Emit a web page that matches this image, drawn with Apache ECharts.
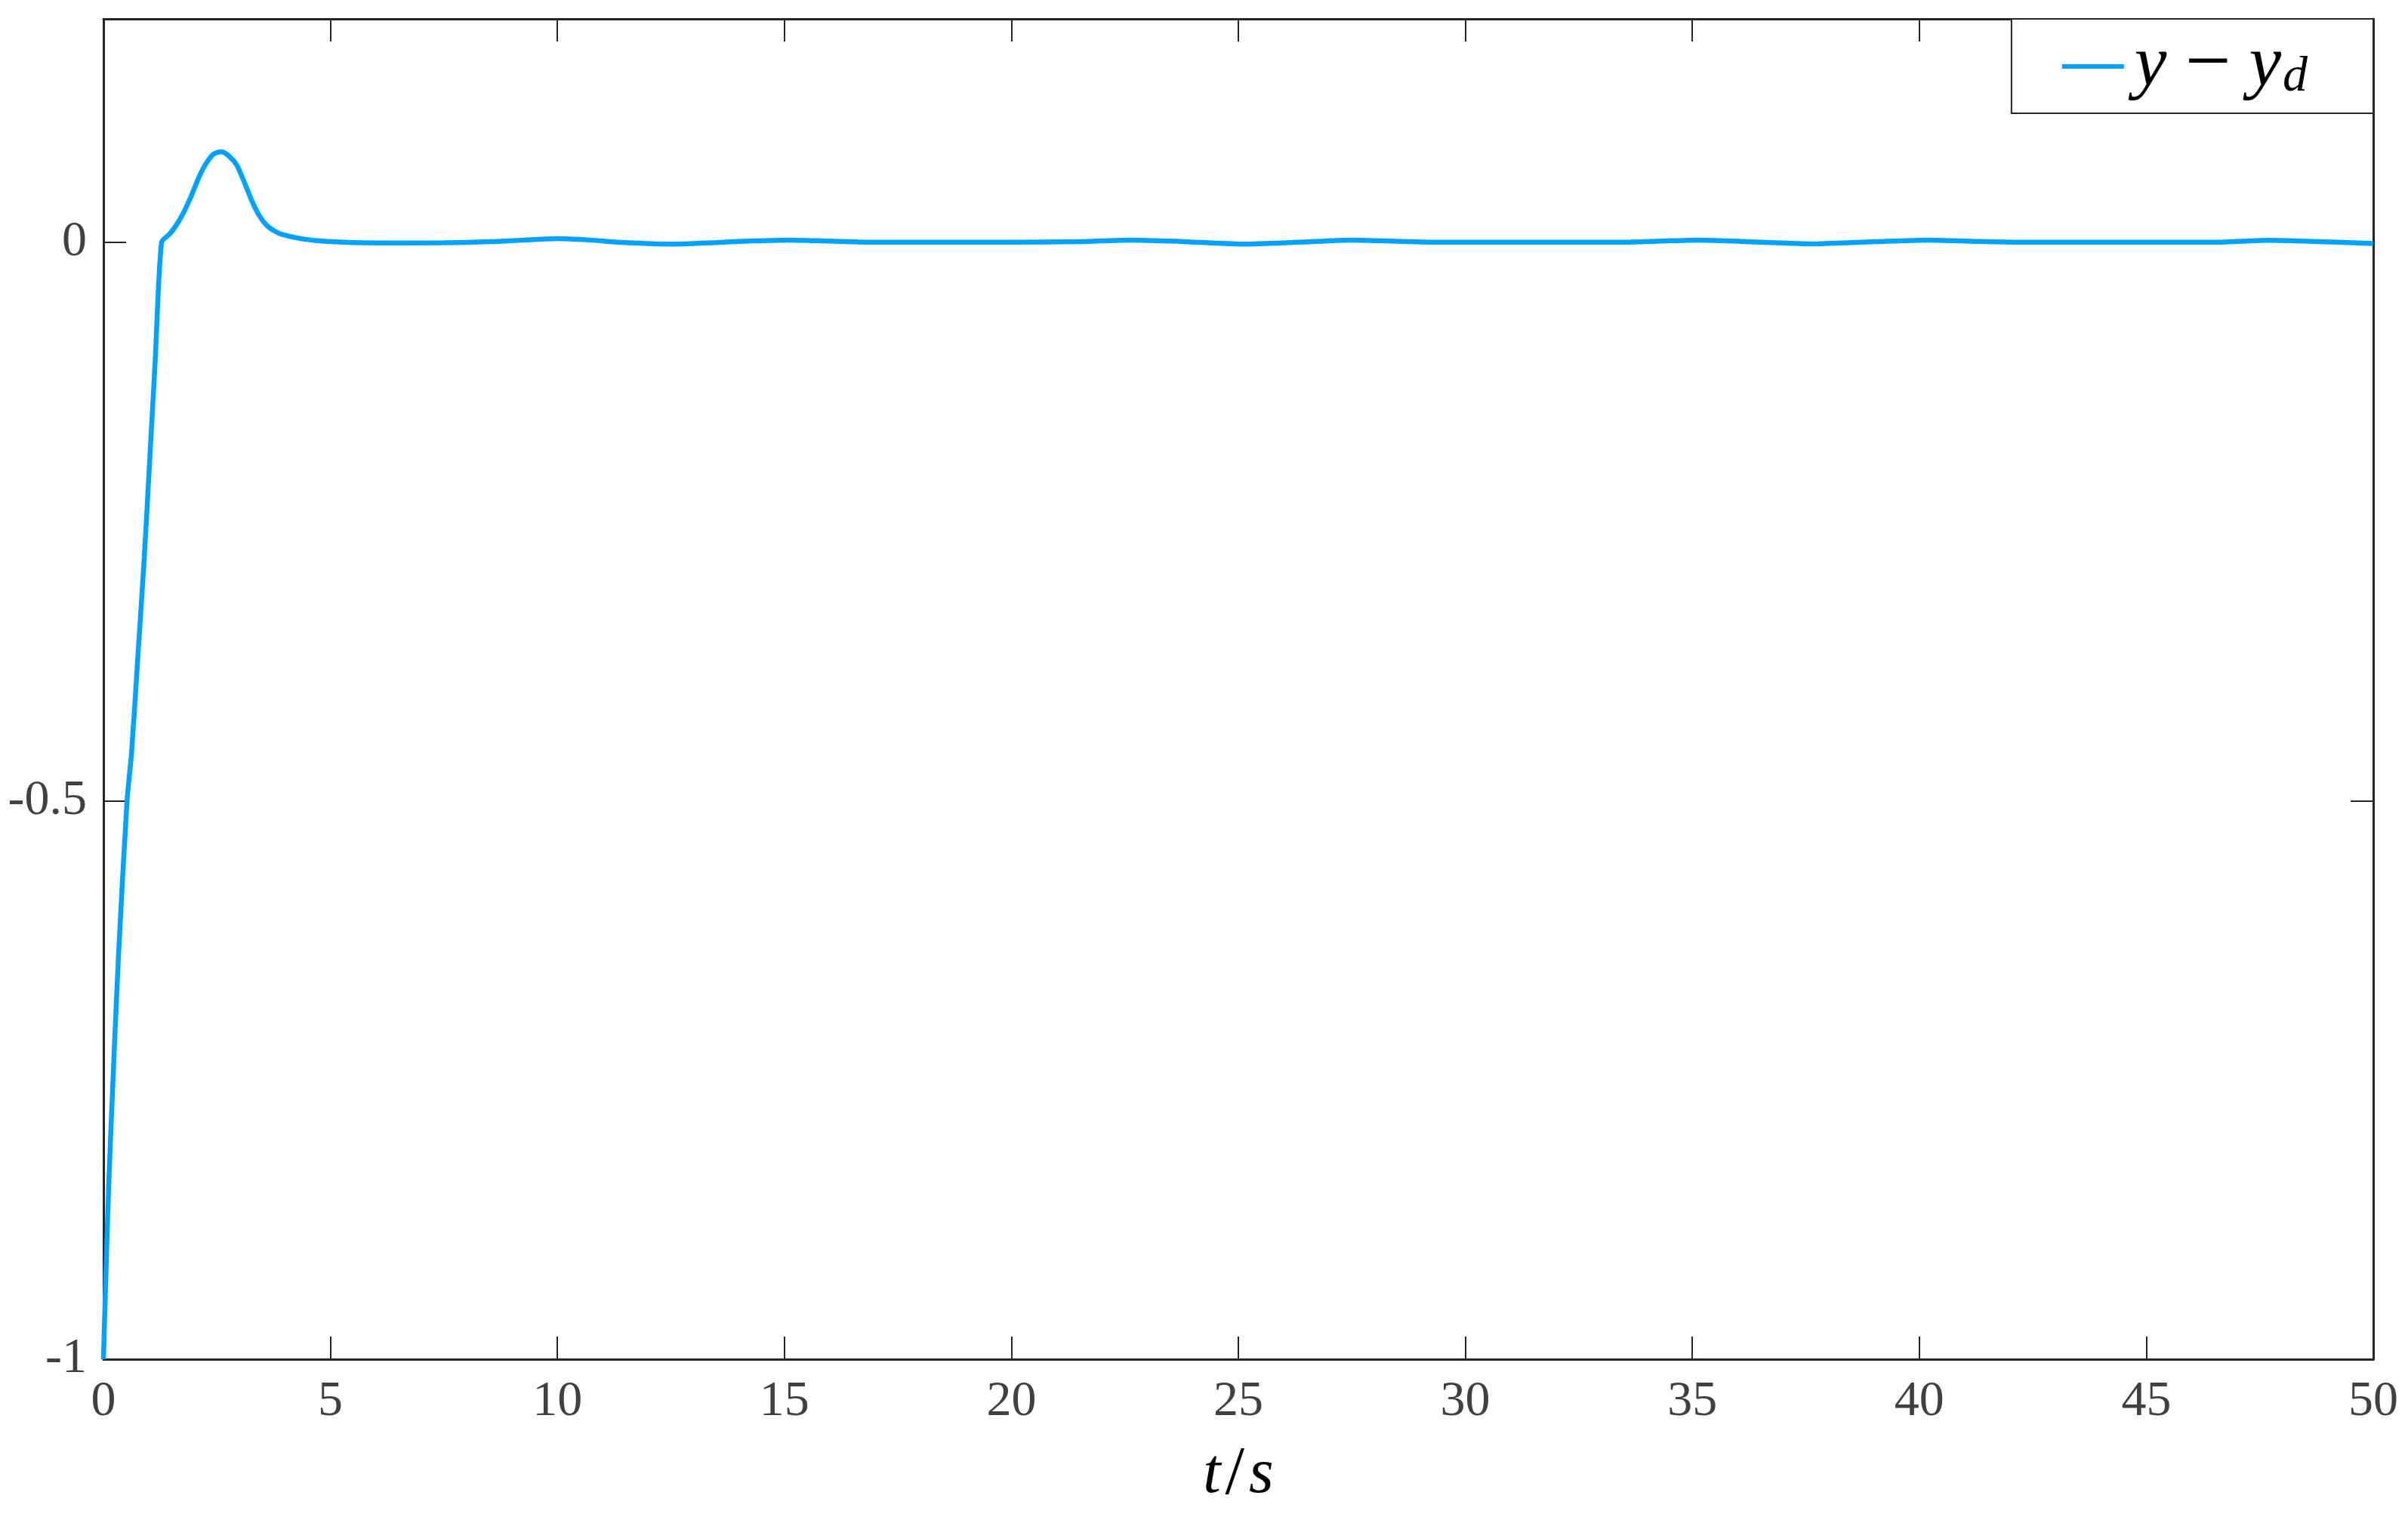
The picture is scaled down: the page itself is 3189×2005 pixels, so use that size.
<!DOCTYPE html>
<html>
<head>
<meta charset="utf-8">
<script src="https://cdn.jsdelivr.net/npm/echarts@6/dist/echarts.min.js"></script>
<style>
  html, body { margin: 0; padding: 0; background: #fff; }
  #chart { width: 3189px; height: 2005px; }
</style>
</head>
<body>
<div id="chart"></div>
<script>
// tracking error y - y_d
const timeData = [
  0, 0.05, 0.12, 0.2, 0.33, 0.52, 0.62, 0.75, 0.9, 1.02, 1.14, 1.28,
  1.45, 1.6, 1.77, 1.94, 2.1, 2.27, 2.43, 2.6, 2.77, 2.94, 3.1, 3.27, 3.43, 3.6, 3.77, 3.93,
  4.38, 4.93, 6, 7.5, 8.5, 9.3, 10, 10.7, 11.5, 12.5, 13.5, 14.3, 15.1, 16, 17, 20,
  21.5, 22.6, 23.7, 25.1, 26.3, 27.5, 28.6, 29.5, 33.5, 34.3, 35.1, 36.2, 37.7, 39,
  40.2, 41.3, 42.5, 46.5, 47.7, 48.8, 50
]
const errorData = [
  -1, -0.93, -0.84, -0.76, -0.64, -0.5, -0.457, -0.376, -0.282, -0.194, -0.106, 0.0,
  0.007, 0.015, 0.027, 0.042, 0.058, 0.071, 0.079, 0.081, 0.077, 0.069, 0.054, 0.037, 0.024, 0.015, 0.010, 0.007,
  0.003, 0.0007, -0.0006, -0.0004, 0.0005, 0.002, 0.0032, 0.002, -0.0003, -0.0016, -0.0002, 0.0012, 0.002, 0.001, 0, 0,
  0.0005, 0.002, 0.0008, -0.0016, 0, 0.002, 0.0008, 0, 0, 0.001, 0.002, 0.0006, -0.0014, 0.0005,
  0.002, 0.0007, 0, 0, 0.0018, 0.0006, -0.0011
]

const AXIS_COLOR = '#262626'
const LABEL_COLOR = '#404040'
const LINE_COLOR = '#00a2ff'
const SERIF = '"Liberation Serif", "Times New Roman", serif'

const chart = echarts.init(document.getElementById('chart'), null, { renderer: 'canvas' })

const axisLine = { show: true, onZero: false, lineStyle: { color: AXIS_COLOR, width: 3 } }
const axisTick = { show: true, inside: true, length: 30, lineStyle: { color: AXIS_COLOR, width: 2 } }
const tickLabel = { color: LABEL_COLOR, fontFamily: SERIF, fontSize: 66 }

const option = {
  backgroundColor: '#fff',
  animation: false,
  grid: { left: 137, right: 46, top: 25, bottom: 200, containLabel: false },
  legend: {
    right: 46,
    top: 25,
    padding: [9, 87, 8, 67],
    itemGap: 0,
    itemWidth: 82,
    itemHeight: 6,
    borderColor: AXIS_COLOR,
    borderWidth: 2,
    backgroundColor: '#fff',
    icon: 'rect',
    data: [{ name: 'err', icon: 'rect' }],
    formatter: () => '{i|y}{m|−}{i|y}{s|d}',
    textStyle: {
      padding: [0, 0, 0, 9],
      rich: {
        i: { fontFamily: SERIF, fontStyle: 'italic', fontSize: 96, color: '#000', lineHeight: 95 },
        m: { fontFamily: SERIF, fontSize: 108, color: '#000', padding: [0, 24, 0, 24], lineHeight: 95 },
        s: { fontFamily: SERIF, fontStyle: 'italic', fontSize: 66, color: '#000', verticalAlign: 'bottom', padding: [30, 0, 0, 2], lineHeight: 95 }
      }
    }
  },
  xAxis: [
    {
      type: 'value', min: 0, max: 50, interval: 5,
      axisLine, axisTick,
      axisLabel: { ...tickLabel, margin: 24 },
      splitLine: { show: false },
      name: '{t|t}{sl|/}{t|s}',
      nameLocation: 'middle',
      nameGap: 108,
      nameTextStyle: {
        rich: {
          t: { fontFamily: SERIF, fontStyle: 'italic', fontSize: 84, color: '#000' },
          sl: { fontFamily: SERIF, fontSize: 92, color: '#000', padding: [0, 6, 0, 6] }
        }
      }
    },
    {
      type: 'value', min: 0, max: 50, interval: 5, position: 'top',
      axisLine, axisTick,
      axisLabel: { show: false },
      splitLine: { show: false }
    }
  ],
  yAxis: [
    {
      type: 'value', min: -1, max: 0.2, interval: 0.5,
      axisLine, axisTick,
      axisLabel: { ...tickLabel, margin: 22, showMaxLabel: false, formatter: v => String(v) },
      splitLine: { show: false }
    },
    {
      type: 'value', min: -1, max: 0.2, interval: 0.5, position: 'right',
      axisLine, axisTick,
      axisLabel: { show: false },
      splitLine: { show: false }
    }
  ],
  series: [{
    name: 'err',
    type: 'line',
    data: timeData.map((t, i) => [t, errorData[i]]),
    showSymbol: false,
    smooth: 0.25,
    lineStyle: { color: LINE_COLOR, width: 6.5 },
    itemStyle: { color: LINE_COLOR }
  }]
}

chart.setOption(option)
</script>
</body>
</html>
